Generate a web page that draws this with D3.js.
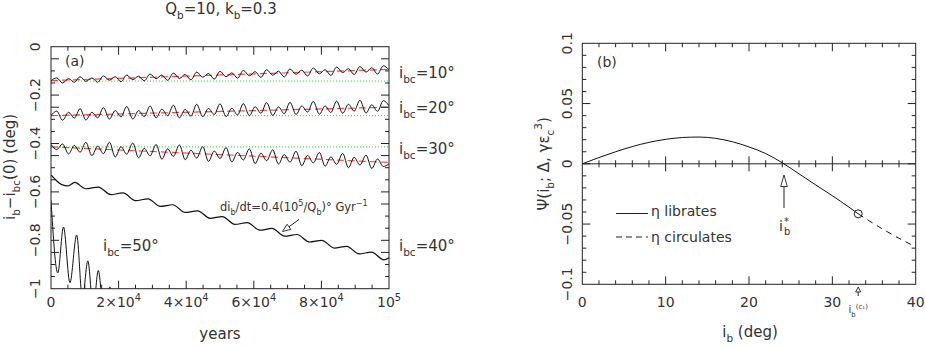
<!DOCTYPE html>
<html>
<head>
<meta charset="utf-8">
<script src="https://cdn.jsdelivr.net/npm/d3@7"></script>
<style>
  body { margin: 0; background: #fff; }
  svg { display: block; }
  text { font-family: "DejaVu Sans", sans-serif; fill: #333; }
</style>
</head>
<body>
<svg id="chart" width="926" height="347"></svg>
<script>
// ---- panel (a): time in units of 1000 yr, i_b - i_bc(0) in deg ----
const yearTicks = [0, 20, 40, 60, 80, 100];
const yearTickLabels = ['0', '2×10^{4}', '4×10^{4}', '6×10^{4}', '8×10^{4}', '10^{5}'];
const devTicks = [0, -0.2, -0.4, -0.6, -0.8, -1];
const devTickLabels = ['0', '−0.2', '−0.4', '−0.6', '−0.8', '−1'];

const curve10 = [[0,-0.140],[1.7,-0.129],[3.4,-0.150],[5.2,-0.132],[6.9,-0.147],[8.6,-0.124],[10.3,-0.143],[12.1,-0.129],[13.8,-0.147],[15.5,-0.121],[17.3,-0.138],[19.0,-0.124],[20.7,-0.145],[22.4,-0.117],[24.2,-0.136],[25.9,-0.122],[27.6,-0.141],[29.3,-0.113],[31.1,-0.132],[32.8,-0.117],[34.5,-0.139],[36.2,-0.109],[38.0,-0.131],[39.7,-0.115],[41.4,-0.137],[43.1,-0.105],[44.9,-0.126],[46.6,-0.111],[48.3,-0.134],[50.0,-0.102],[51.8,-0.124],[53.5,-0.108],[55.2,-0.130],[56.9,-0.098],[58.7,-0.120],[60.4,-0.103],[62.1,-0.127],[63.8,-0.095],[65.6,-0.118],[67.3,-0.101],[69.0,-0.125],[70.7,-0.092],[72.5,-0.114],[74.2,-0.097],[75.9,-0.121],[77.6,-0.088],[79.4,-0.112],[81.1,-0.095],[82.8,-0.119],[84.5,-0.084],[86.3,-0.107],[88.0,-0.091],[89.7,-0.115],[91.4,-0.082],[93.2,-0.105],[94.9,-0.087],[96.6,-0.113],[98.3,-0.079],[100,-0.096]];

const curve20 = [[0,-0.285],[1.7,-0.266],[3.4,-0.304],[5.2,-0.271],[6.9,-0.295],[8.6,-0.256],[10.3,-0.303],[12.1,-0.271],[13.8,-0.294],[15.5,-0.252],[17.3,-0.299],[19.0,-0.264],[20.7,-0.290],[22.4,-0.247],[24.2,-0.299],[25.9,-0.264],[27.6,-0.289],[29.3,-0.245],[31.1,-0.294],[32.8,-0.258],[34.5,-0.285],[36.2,-0.242],[38.0,-0.294],[39.7,-0.259],[41.4,-0.287],[43.1,-0.238],[44.9,-0.289],[46.6,-0.255],[48.3,-0.280],[50.0,-0.236],[51.8,-0.289],[53.5,-0.254],[55.2,-0.282],[56.9,-0.235],[58.7,-0.285],[60.4,-0.248],[62.1,-0.275],[63.8,-0.231],[65.6,-0.284],[67.3,-0.249],[69.0,-0.277],[70.7,-0.230],[72.5,-0.280],[74.2,-0.245],[75.9,-0.270],[77.6,-0.226],[79.4,-0.279],[81.1,-0.245],[82.8,-0.272],[84.5,-0.225],[86.3,-0.275],[88.0,-0.238],[89.7,-0.266],[91.4,-0.221],[93.2,-0.274],[94.9,-0.240],[96.6,-0.267],[98.3,-0.223],[100,-0.244]];

const curve30 = [[0,-0.404],[1.7,-0.425],[3.4,-0.402],[5.2,-0.443],[6.9,-0.408],[8.6,-0.436],[10.3,-0.395],[12.1,-0.450],[13.8,-0.411],[15.5,-0.442],[17.3,-0.395],[19.0,-0.456],[20.7,-0.413],[22.4,-0.444],[24.2,-0.398],[25.9,-0.459],[27.6,-0.420],[29.3,-0.451],[31.1,-0.404],[32.8,-0.465],[34.5,-0.422],[36.2,-0.453],[38.0,-0.406],[39.7,-0.467],[41.4,-0.428],[43.1,-0.460],[44.9,-0.413],[46.6,-0.474],[48.3,-0.431],[50.0,-0.462],[51.8,-0.417],[53.5,-0.476],[55.2,-0.437],[56.9,-0.468],[58.7,-0.422],[60.4,-0.483],[62.1,-0.440],[63.8,-0.471],[65.6,-0.426],[67.3,-0.485],[69.0,-0.446],[70.7,-0.477],[72.5,-0.432],[74.2,-0.492],[75.9,-0.449],[77.6,-0.480],[79.4,-0.437],[81.1,-0.494],[82.8,-0.455],[84.5,-0.486],[86.3,-0.441],[88.0,-0.500],[89.7,-0.457],[91.4,-0.489],[93.2,-0.448],[94.9,-0.503],[96.6,-0.464],[98.3,-0.495],[100,-0.484]];

const curve40 = [[0,-0.530],[1.5,-0.552],[3.2,-0.570],[5.0,-0.575],[7.0,-0.561],[10.3,-0.587],[14.0,-0.580],[17.65,-0.611],[21.3,-0.604],[25.0,-0.636],[28.7,-0.629],[32.35,-0.660],[36.0,-0.653],[39.7,-0.685],[43.4,-0.678],[47.05,-0.709],[50.7,-0.702],[54.4,-0.734],[58.1,-0.727],[61.75,-0.758],[65.4,-0.751],[69.1,-0.783],[72.8,-0.776],[76.45,-0.807],[80.1,-0.800],[83.8,-0.832],[87.5,-0.825],[91.15,-0.856],[94.8,-0.849],[98.5,-0.881],[100,-0.872]];

const curve50 = [[0,-0.634],[2.0,-0.935],[3.7,-0.745],[5.6,-0.975],[7.6,-0.778],[9.3,-1.04],[10.9,-0.885],[12.5,-1.08],[14.0,-0.925],[15.6,-1.10],[17.4,-0.993],[19.0,-1.12]];

// red dashed trends and green dotted initial levels for i_bc = 10, 20, 30 deg
const trendStart = [-0.140, -0.285, -0.414];
const trendEnd = [-0.094, -0.250, -0.478];
const initialLevel = [-0.142, -0.285, -0.414];

// ---- panel (b): Psi(i_b) ----
const ibLibrates = [0, 2, 4, 6, 8, 10, 12, 14, 16, 18, 20, 22, 24, 26, 28, 30, 32, 33.1];
const psiLibrates = [0, 0.0052, 0.0100, 0.0143, 0.0178, 0.0203, 0.0218, 0.0222, 0.0211, 0.0183, 0.0140, 0.0085, 0.0008, -0.0083, -0.0175, -0.0265, -0.0360, -0.0415];
const ibCirculates = [33.1, 34, 36, 38, 40];
const psiCirculates = [-0.0415, -0.0455, -0.0540, -0.0618, -0.0690];
const ibStar = 24.2;
const ibTicks = [0, 10, 20, 30, 40];
const psiTicks = [0.1, 0.05, 0, -0.05, -0.1];
const psiTickLabels = ['0.1', '0.05', '0', '−0.05', '−0.1'];

const svg = d3.select('#chart');
const ink = '#222';

// text with _{sub} and ^{sup} pieces
function rich(sel, str, size) {
  const parts = str.split(/(_\{[^}]*\}|\^\{[^}]*\})/).filter(s => s);
  let shift = 0;
  parts.forEach(p => {
    let mode = 0, s = p;
    if (p.startsWith('_{')) { mode = 1; s = p.slice(2, -1); }
    else if (p.startsWith('^{')) { mode = -1; s = p.slice(2, -1); }
    const target = mode === 1 ? size * 0.35 : mode === -1 ? -size * 0.45 : 0;
    sel.append('tspan').attr('dy', (target - shift).toFixed(2))
      .attr('font-size', mode ? size * 0.7 : size).text(s);
    shift = target;
  });
  return sel;
}

function label(x, y, str, size, anchor = 'start', rotate = false) {
  const t = svg.append('text').attr('text-anchor', anchor).attr('font-size', size)
    .attr('transform', `translate(${x},${y})` + (rotate ? ' rotate(-90)' : ''));
  return rich(t, str, size);
}

function frame(x, y, isMajorX, isMajorY) {
  const [x0, x1] = x.range(), [y0, y1] = y.range();
  const g = svg.append('g').attr('stroke', ink).attr('fill', 'none');
  g.append('rect').attr('x', x0).attr('y', y1).attr('width', x1 - x0).attr('height', y0 - y1);
  const xt = x.ticks(20).filter(v => v > x.domain()[0] && v < x.domain()[1]);
  g.selectAll(null).data(xt).join('path')
    .attr('d', v => { const l = isMajorX(v) ? 8 : 4; return `M${x(v)},${y0}v${-l}M${x(v)},${y1}v${l}`; });
  const yt = y.ticks(20).filter(v => v > y.domain()[0] && v < y.domain()[1]);
  g.selectAll(null).data(yt).join('path')
    .attr('d', v => { const l = isMajorY(v) ? 8 : 4; return `M${x0},${y(v)}h${l}M${x1},${y(v)}h${-l}`; });
}

function hollowArrow(x1, y1, x2, y2, len, hw) {
  const a = Math.atan2(y2 - y1, x2 - x1);
  const bx = x2 - len * Math.cos(a), by = y2 - len * Math.sin(a);
  const px = -Math.sin(a) * hw, py = Math.cos(a) * hw;
  svg.append('path').attr('d', `M${x1},${y1}L${bx},${by}`).attr('stroke', ink).attr('fill', 'none');
  svg.append('path').attr('d', `M${x2},${y2}L${bx + px},${by + py}L${bx - px},${by - py}Z`)
    .attr('stroke', ink).attr('fill', '#fff').attr('stroke-width', 0.9);
}

// ================= panel (a) =================
const xA = d3.scaleLinear().domain([0, 100]).range([51, 389]);
const yA = d3.scaleLinear().domain([-1, 0]).range([288.7, 46.7]);

svg.append('clipPath').attr('id', 'clipA').append('rect')
  .attr('x', 51).attr('y', 46.7).attr('width', 338).attr('height', 242);

const gA = svg.append('g').attr('clip-path', 'url(#clipA)');

gA.selectAll(null).data(initialLevel).join('line')
  .attr('x1', xA(0)).attr('x2', xA(100)).attr('y1', d => yA(d)).attr('y2', d => yA(d))
  .attr('stroke', '#22dd22').attr('stroke-width', 1).attr('stroke-dasharray', '1,2');

gA.selectAll(null).data(d3.zip(trendStart, trendEnd)).join('line')
  .attr('x1', xA(0)).attr('x2', xA(100)).attr('y1', d => yA(d[0])).attr('y2', d => yA(d[1]))
  .attr('stroke', '#ff4444').attr('stroke-width', 1.2).attr('stroke-dasharray', '7,4');

const lineA = d3.line().x(d => xA(d[0])).y(d => yA(d[1])).curve(d3.curveMonotoneX);
[[curve10, 1], [curve20, 1], [curve30, 1], [curve40, 1.2], [curve50, 1]].forEach(([c, w]) => {
  gA.append('path').attr('d', lineA(c)).attr('fill', 'none').attr('stroke', '#111').attr('stroke-width', w);
});

frame(xA, yA, v => v % 20 === 0, v => Math.round(v * 10) % 2 === 0);

yearTicks.forEach((v, i) => label(xA(v), 307, yearTickLabels[i], 14, 'middle'));
devTicks.forEach((v, i) => label(40, yA(v), devTickLabels[i], 14, 'middle', true));

label(221, 14, 'Q_{b}=10,  k_{b}=0.3', 15, 'middle');
label(15, 167, 'i_{b}−i_{bc}(0)  (deg)', 15, 'middle', true);
label(220, 339, 'years', 15, 'middle');
label(65, 66, '(a)', 14);

label(399, 77.5, 'i_{bc}=10°', 15);
label(399, 112.5, 'i_{bc}=20°', 15);
label(399, 154, 'i_{bc}=30°', 15);
label(399, 251, 'i_{bc}=40°', 15);
label(103, 251, 'i_{bc}=50°', 15);

label(220, 211, 'di_{b}/dt=0.4(10^{5}/Q_{b})°  Gyr^{−1}', 11.5);
hollowArrow(299, 219.5, 282.5, 231.5, 8, 3.2);

// ================= panel (b) =================
const xB = d3.scaleLinear().domain([0, 40]).range([582.3, 915.7]);
const yB = d3.scaleLinear().domain([-0.1, 0.1]).range([284.3, 43.3]);

// zero line with crossing ticks
const gZ = svg.append('g').attr('stroke', ink).attr('fill', 'none');
gZ.append('line').attr('x1', xB(0)).attr('x2', xB(40)).attr('y1', yB(0)).attr('y2', yB(0));
gZ.selectAll(null).data(xB.ticks(20).filter(v => v > 0 && v < 40)).join('line')
  .attr('x1', d => xB(d)).attr('x2', d => xB(d))
  .attr('y1', d => yB(0) - (d % 10 === 0 ? 7.5 : 3.5))
  .attr('y2', d => yB(0) + (d % 10 === 0 ? 7.5 : 3.5));

const lineB = d3.line().x(d => xB(d[0])).y(d => yB(d[1])).curve(d3.curveMonotoneX);
svg.append('path').attr('d', lineB(d3.zip(ibLibrates, psiLibrates)))
  .attr('fill', 'none').attr('stroke', '#111').attr('stroke-width', 1);
svg.append('path').attr('d', lineB(d3.zip(ibCirculates, psiCirculates)))
  .attr('fill', 'none').attr('stroke', '#111').attr('stroke-width', 1).attr('stroke-dasharray', '6,5');
svg.append('circle').attr('cx', xB(ibCirculates[0])).attr('cy', yB(psiCirculates[0])).attr('r', 4)
  .attr('fill', 'none').attr('stroke', ink);

frame(xB, yB, v => v % 10 === 0, v => Math.abs(Math.round(v * 100)) % 5 === 0);

ibTicks.forEach(v => label(xB(v), 307, String(v), 14, 'middle'));
psiTicks.forEach((v, i) => label(572, yB(v), psiTickLabels[i], 14, 'middle', true));

label(549, 163.8, 'Ψ(i_{b};  Δ,  γε_{c}^{3})', 15, 'middle', true);
label(750, 337, 'i_{b}  (deg)', 15, 'middle');
label(597, 67, '(b)', 14);

// legend
svg.append('line').attr('x1', 616).attr('x2', 648).attr('y1', 213.5).attr('y2', 213.5).attr('stroke', ink);
svg.append('line').attr('x1', 616).attr('x2', 648).attr('y1', 237).attr('y2', 237).attr('stroke', ink)
  .attr('stroke-dasharray', '6,4');
label(651, 216, 'η  librates', 14);
label(651, 241.5, 'η  circulates', 14);

// i_b* marker
hollowArrow(xB(ibStar), 208, xB(ibStar), 175, 11.5, 3.3);
label(781, 231, 'i', 14, 'middle');
label(784, 225, '*', 10);
label(784, 235, 'b', 10);

// i_b^(c1) marker
hollowArrow(xB(ibCirculates[0]), 296, xB(ibCirculates[0]), 287, 5, 2.5);
label(xB(ibCirculates[0]), 313, 'i_{b}^{(c₁)}', 10, 'middle');
</script>
</body>
</html>
